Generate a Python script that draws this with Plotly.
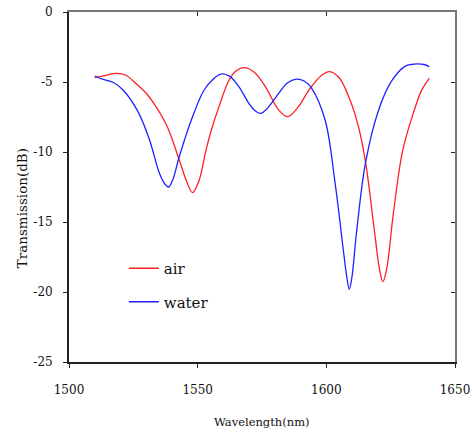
import plotly.graph_objects as go

air_wl = [1510, 1514, 1518.4, 1522, 1526, 1530, 1533.8, 1538.2, 1542.9, 1545.5, 1548, 1550.6, 1553.2, 1555.7, 1558.3, 1562.2, 1565, 1568, 1572, 1576.3, 1581.5, 1585, 1589, 1593.7, 1598, 1601.2, 1605, 1609.2, 1612.5, 1615.3, 1618.8, 1620.6, 1622, 1623.6, 1625.9, 1629.7, 1634.2, 1637, 1640]
air_db = [-4.69, -4.55, -4.38, -4.5, -5.1, -5.8, -6.76, -8.2, -10.6, -12.0, -12.9, -12.0, -9.9, -8.2, -6.76, -4.86, -4.2, -3.98, -4.3, -5.33, -7.0, -7.48, -6.8, -5.45, -4.55, -4.26, -4.7, -6.29, -8.2, -10.8, -15.8, -18.3, -19.26, -18.2, -14.6, -9.86, -7.0, -5.6, -4.74]

water_wl = [1510, 1513, 1517.1, 1521, 1526.8, 1531.3, 1535.1, 1537.3, 1538.7, 1540.3, 1542.9, 1548, 1552.5, 1556, 1559, 1562.5, 1566, 1569.9, 1572.3, 1574.4, 1577, 1581.5, 1585, 1588.5, 1591.5, 1594.3, 1599.5, 1603.4, 1606.6, 1608, 1608.9, 1609.9, 1611.7, 1615.2, 1620.1, 1625.2, 1630.4, 1633, 1635.5, 1638, 1640]
water_db = [-4.57, -4.8, -5.02, -5.57, -7.12, -9.14, -11.5, -12.3, -12.5, -12.0, -10.3, -7.48, -5.57, -4.8, -4.43, -4.6, -5.33, -6.52, -7.05, -7.24, -6.9, -5.81, -5.05, -4.79, -4.95, -5.45, -7.7, -12.2, -17.0, -19.0, -19.8, -19.0, -15.8, -10.8, -7.12, -4.98, -3.9, -3.75, -3.71, -3.75, -3.9]

x_ticks = [1500, 1550, 1600, 1650]
y_ticks = [0, -5, -10, -15, -20, -25]
y_tick_text = ["0", "-5", "-10", "-15", "-20", "-25"]

font_family = "DejaVu Serif"

fig = go.Figure()
fig.add_trace(go.Scatter(x=air_wl, y=air_db, mode="lines", name="air",
                         line=dict(color="#ff2020", width=1.3, shape="spline", smoothing=1.0),
                         legendgroup="a"))
fig.add_trace(go.Scatter(x=water_wl, y=water_db, mode="lines", name="water",
                         line=dict(color="#2020ff", width=1.3, shape="spline", smoothing=1.0),
                         legendgroup="b"))

axis_common = dict(showgrid=False, zeroline=False, showline=True, linecolor="#222",
                   linewidth=1.8, ticks="outside", ticklen=4, tickwidth=1, tickcolor="#222",
                   automargin=False, ticklabeloverflow="allow",
                   tickfont=dict(family=font_family, size=12, color="#111"))

fig.update_layout(
    width=472, height=433,
    margin=dict(l=69, r=17, t=12, b=71),
    paper_bgcolor="white", plot_bgcolor="white",
    font=dict(family=font_family, color="#111"),
    showlegend=True,
    legend=dict(x=0.142, y=0.22, xanchor="left", yanchor="middle",
                bgcolor="rgba(0,0,0,0)", font=dict(family=font_family, size=15, color="#111"),
                tracegroupgap=11, itemwidth=30),
    xaxis=dict(range=[1500, 1650], tickvals=x_ticks, ticklabelstandoff=12, **axis_common),
    yaxis=dict(range=[-25, 0], tickvals=y_ticks, ticktext=y_tick_text, ticklabelstandoff=8, **axis_common),
    xaxis2=dict(range=[1500, 1650], tickvals=x_ticks, overlaying="x", ticks="inside", ticklen=4,
                tickcolor="#222", showticklabels=False, showgrid=False, zeroline=False,
                showline=True, linecolor="#777", linewidth=1.5, side="top", anchor="y", automargin=False),
    yaxis2=dict(range=[-25, 0], tickvals=y_ticks, overlaying="y", ticks="inside", ticklen=4,
                tickcolor="#222", showticklabels=False, showgrid=False, zeroline=False,
                showline=True, linecolor="#777", linewidth=1.5, side="right", anchor="x", automargin=False),
    annotations=[
        dict(text="Wavelength(nm)", x=0.5, xref="paper", y=-0.17, yref="paper",
             xanchor="center", yanchor="middle", showarrow=False,
             font=dict(family=font_family, size=11.5, color="#111")),
        dict(text="Transmission(dB)", x=-0.121, xref="paper", y=0.44, yref="paper",
             xanchor="center", yanchor="middle", textangle=-90, showarrow=False,
             font=dict(family=font_family, size=13.5, color="#111")),
    ],
)
fig.add_trace(go.Scatter(x=[1500], y=[-25], xaxis="x2", yaxis="y2", mode="markers",
                         marker=dict(opacity=0), showlegend=False, hoverinfo="skip"))

fig.write_html("out.html")
